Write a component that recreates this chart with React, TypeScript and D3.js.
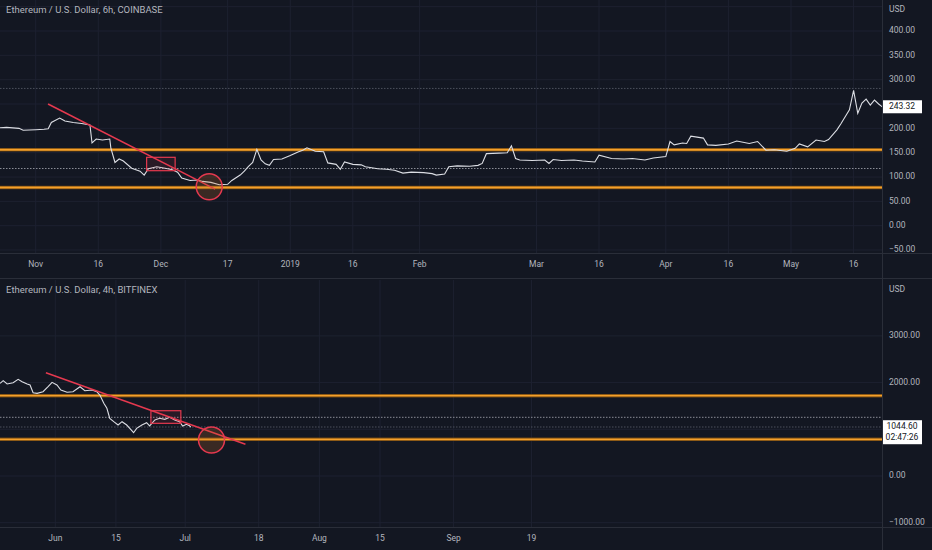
import * as d3 from "d3";

// ETH/USD 6h, COINBASE (Oct 2018 - May 2019)
const topDates = [
  "2018-10-23", "2018-10-25", "2018-10-28", "2018-10-29", "2018-11-01", "2018-11-03",
  "2018-11-04", "2018-11-04T18:00", "2018-11-06T18:00", "2018-11-08", "2018-11-10",
  "2018-11-12", "2018-11-14", "2018-11-14T12:00", "2018-11-15T12:00", "2018-11-17",
  "2018-11-18T18:00", "2018-11-19", "2018-11-20", "2018-11-21", "2018-11-22", "2018-11-24",
  "2018-11-26", "2018-11-27", "2018-11-28", "2018-11-30", "2018-12-02", "2018-12-03T18:00",
  "2018-12-05", "2018-12-06", "2018-12-08", "2018-12-09T18:00", "2018-12-11", "2018-12-13",
  "2018-12-15", "2018-12-17", "2018-12-18", "2018-12-20", "2018-12-21", "2018-12-22",
  "2018-12-23", "2018-12-24", "2018-12-25", "2018-12-26", "2018-12-27", "2018-12-28",
  "2018-12-30", "2019-01-01", "2019-01-03", "2019-01-04", "2019-01-05", "2019-01-07",
  "2019-01-09", "2019-01-10", "2019-01-12", "2019-01-13", "2019-01-14", "2019-01-16",
  "2019-01-18", "2019-01-19", "2019-01-22", "2019-01-24", "2019-01-26", "2019-01-28",
  "2019-01-30", "2019-02-02", "2019-02-04", "2019-02-05", "2019-02-07", "2019-02-08",
  "2019-02-10", "2019-02-13", "2019-02-15", "2019-02-16", "2019-02-17", "2019-02-20",
  "2019-02-22", "2019-02-23", "2019-02-24", "2019-02-25", "2019-02-28", "2019-03-03",
  "2019-03-04", "2019-03-05", "2019-03-07", "2019-03-10", "2019-03-12", "2019-03-15",
  "2019-03-16", "2019-03-19", "2019-03-22", "2019-03-24", "2019-03-27", "2019-03-29",
  "2019-04-01", "2019-04-02", "2019-04-03", "2019-04-05", "2019-04-06", "2019-04-07",
  "2019-04-10", "2019-04-11", "2019-04-13", "2019-04-16", "2019-04-18", "2019-04-21",
  "2019-04-23", "2019-04-25", "2019-04-27", "2019-04-30", "2019-05-02", "2019-05-03",
  "2019-05-05", "2019-05-07", "2019-05-09", "2019-05-10", "2019-05-12", "2019-05-13",
  "2019-05-15", "2019-05-16", "2019-05-17", "2019-05-18", "2019-05-19", "2019-05-20",
  "2019-05-21", "2019-05-22", "2019-05-23",
];
const topPrices = [
  201, 202, 200, 196, 197, 198,
  199, 212, 221, 215, 212,
  210, 207, 170, 178, 176,
  178, 160, 130, 137, 133, 118,
  112, 104, 117, 121, 118, 115,
  110, 98, 93, 94, 91, 89,
  84, 85, 93, 104, 112, 122,
  130, 157, 135, 127, 124, 136,
  137, 144, 152, 155, 160, 153,
  152, 129, 126, 116, 131, 126,
  125, 121, 117, 116, 114, 108,
  110, 109, 107, 104, 106, 121,
  123, 122, 124, 128, 148, 149,
  150, 164, 138, 135, 134, 135,
  128, 136, 134, 135, 133, 131,
  145, 138, 137, 138, 135, 139,
  142, 173, 166, 170, 169, 184,
  180, 166, 165, 168, 174, 169,
  173, 155, 156, 153, 159, 168,
  162, 176, 173, 177, 197, 210,
  238, 278, 231, 252, 260, 248,
  258, 250, 243.32,
];
const topTickDates = [
  "2018-11-01", "2018-11-16", "2018-12-01", "2018-12-17", "2019-01-01", "2019-01-16",
  "2019-02-01", "2019-03-01", "2019-03-16", "2019-04-01", "2019-04-16", "2019-05-01", "2019-05-16",
];
const topTickLabels = ["Nov", "16", "Dec", "17", "2019", "16", "Feb", "Mar", "16", "Apr", "16", "May", "16"];
// 250.00 sits under the last-price label, so it is not written
const topPriceTicks = [400, 350, 300, 200, 150, 100, 50, 0, -50];
const topGridLevels = [450, 400, 350, 300, 250, 200, 150, 100, 50, 0, -50];
const topLevels = [156, 78.5];
const topDotted = [117.5, 282];
const topTrend: [string, number][] = [["2018-11-03T23:00", 250], ["2018-12-14", 75]];
const topBox: [string, number][] = [["2018-11-27T14:00", 140.5], ["2018-12-04T10:00", 113]];
const topCircle: [string, number] = ["2018-12-12T14:00", 80];

// ETH/USD 4h, BITFINEX (May - Jul 2022)
const bottomDates = [
  "2022-05-19T06:00", "2022-05-19T23:00", "2022-05-20T21:00", "2022-05-22T06:00",
  "2022-05-23T10:00", "2022-05-24T08:00", "2022-05-25T12:00", "2022-05-26T04:00",
  "2022-05-26T21:00", "2022-05-27T19:00", "2022-05-29T04:00", "2022-05-30T08:00",
  "2022-05-31T06:00", "2022-06-01T09:00", "2022-06-02T07:00", "2022-06-03T17:00",
  "2022-06-05T02:00", "2022-06-06T17:00", "2022-06-07T20:00", "2022-06-09T11:00",
  "2022-06-10T14:00", "2022-06-11T07:00", "2022-06-12T05:00", "2022-06-12T22:00",
  "2022-06-13T14:00", "2022-06-14T12:00", "2022-06-15T12:00", "2022-06-16T10:00",
  "2022-06-17T12:00", "2022-06-18T10:00", "2022-06-19T02:00", "2022-06-19T19:00",
  "2022-06-21T00:00", "2022-06-22T02:00", "2022-06-22T19:00", "2022-06-24T00:00",
  "2022-06-25T02:00", "2022-06-26T07:00", "2022-06-27T10:00", "2022-06-28T14:00",
  "2022-06-29T17:00", "2022-06-30T10:00", "2022-07-01T07:00", "2022-07-02T00:00",
  "2022-07-02T07:00",
];
const bottomPrices = [
  1985, 2041, 1970, 1998,
  2070, 2020, 1970, 1949,
  1784, 1770, 1805, 1912,
  2006, 1949, 1842, 1792,
  1805, 1912, 1827, 1842,
  1805, 1734, 1556, 1450,
  1235, 1163, 1092, 1163,
  1092, 1000, 927, 1021,
  1092, 1141, 1071, 1199,
  1235, 1214, 1257, 1199,
  1163, 1071, 1107, 1077,
  1044.6,
];
const bottomTickDates = [
  "2022-06-01", "2022-06-15", "2022-07-01", "2022-07-18", "2022-08-01", "2022-08-15", "2022-09-01", "2022-09-19",
];
const bottomTickLabels = ["Jun", "15", "Jul", "18", "Aug", "15", "Sep", "19"];
const bottomGridLevels = [3000, 2000, 1000, 0, -1000];
// 1000.00 sits under the last-price label, so it is not written
const bottomPriceTicks = [3000, 2000, 0, -1000];
const bottomLevels = [1720, 786];
const bottomDotted = [1257, 1049];
const bottomTrend: [string, number][] = [["2022-05-29T20:00", 2212], ["2022-07-14T22:00", 679]];
const bottomBox: [string, number][] = [["2022-06-23T02:00", 1398], ["2022-06-30", 1128]];
const bottomCircle: [string, number] = ["2022-07-07T02:00", 771];

const W = 932;
const H = 550;
const AXIS_X = 882;
const BG = "#131722";
const GRID = "#1d2130";
const TEXT = "#b2b5be";
const BORDER = "#2a2e39";
const RED = "#e5394f";
const FONT = "Roboto, 'Liberation Sans', sans-serif";

const parse = (s: string) => new Date(s.length === 10 ? s + "T00:00" : s);
const fmt = d3.format(".2f");

type PanelProps = {
  top: number;
  plotBottom: number;
  title: string;
  dates: string[];
  prices: number[];
  x: d3.ScaleTime<number, number>;
  y: d3.ScaleLinear<number, number>;
  tickDates: string[];
  tickLabels: string[];
  priceTicks: number[];
  gridLevels: number[];
  levels: number[];
  dotted: number[];
  trend: [string, number][];
  box: [string, number][];
  circle: [string, number];
  lastLines: string[];
};

function Panel(p: PanelProps) {
  const line = d3
    .line<number>()
    .x((_, i) => p.x(parse(p.dates[i])))
    .y((v) => p.y(v));
  const last = p.prices[p.prices.length - 1];
  const boxH = p.lastLines.length * 11 + 2;
  const boxY = p.y(last) - 7;
  return (
    <g>
      <defs>
        <clipPath id={`clip-${p.top}`}>
          <rect x={0} y={p.top} width={AXIS_X} height={p.plotBottom - p.top} />
        </clipPath>
      </defs>
      {/* grid */}
      {p.gridLevels.map((v) => (
        <line key={`h${v}`} x1={0} x2={AXIS_X} y1={p.y(v)} y2={p.y(v)} stroke={GRID} />
      ))}
      {p.tickDates.map((d) => (
        <line key={`v${d}`} x1={p.x(parse(d))} x2={p.x(parse(d))} y1={p.top} y2={p.plotBottom} stroke={GRID} />
      ))}
      <g clipPath={`url(#clip-${p.top})`}>
        {/* dotted levels */}
        {p.dotted.map((v, i) => (
          <line
            key={`d${v}`}
            x1={0}
            x2={AXIS_X}
            y1={p.y(v)}
            y2={p.y(v)}
            stroke={i === 0 ? "#8a8d96" : "#4c505c"}
            strokeDasharray="1.5 1.5"
          />
        ))}
        {/* horizontal orange levels */}
        {p.levels.map((v) => (
          <g key={`l${v}`}>
            <line x1={0} x2={AXIS_X} y1={p.y(v)} y2={p.y(v)} stroke="#6b4512" strokeWidth={3.5} />
            <line x1={0} x2={AXIS_X} y1={p.y(v)} y2={p.y(v)} stroke="#f5a02a" strokeWidth={1.8} />
          </g>
        ))}
        {/* price */}
        <path d={line(p.prices) ?? ""} fill="none" stroke="#dcdee4" strokeWidth={1.1} />
        {/* drawings */}
        <rect
          x={p.x(parse(p.box[0][0]))}
          y={p.y(p.box[0][1])}
          width={p.x(parse(p.box[1][0])) - p.x(parse(p.box[0][0]))}
          height={p.y(p.box[1][1]) - p.y(p.box[0][1])}
          fill="rgba(229,57,79,0.1)"
          stroke={RED}
          strokeWidth={1.2}
        />
        <line
          x1={p.x(parse(p.trend[0][0]))}
          y1={p.y(p.trend[0][1])}
          x2={p.x(parse(p.trend[1][0]))}
          y2={p.y(p.trend[1][1])}
          stroke={RED}
          strokeWidth={1.5}
        />
        <circle
          cx={p.x(parse(p.circle[0]))}
          cy={p.y(p.circle[1])}
          r={13}
          fill="rgba(200,110,40,0.22)"
          stroke={RED}
          strokeWidth={1.5}
        />
      </g>
      {/* title */}
      <text x={6} y={p.top + 13} fill={TEXT} fontSize={9.5} fontFamily={FONT}>
        {p.title}
      </text>
      {/* borders */}
      <line x1={0} x2={W} y1={p.plotBottom + 0.5} y2={p.plotBottom + 0.5} stroke={BORDER} />
      {/* price axis */}
      <text x={889} y={p.top + 10} fill={TEXT} fontSize={8.5} fontFamily={FONT} dominantBaseline="middle">
        USD
      </text>
      {p.priceTicks.map((v) => (
        <text key={`t${v}`} x={889} y={p.y(v)} fill={TEXT} fontSize={8.5} fontFamily={FONT} dominantBaseline="middle">
          {fmt(v)}
        </text>
      ))}
      {/* time axis */}
      {p.tickDates.map((d, i) => (
        <text
          key={`x${d}`}
          x={p.x(parse(d))}
          y={p.plotBottom + 12}
          fill={TEXT}
          fontSize={8.5}
          fontFamily={FONT}
          textAnchor="middle"
          dominantBaseline="middle"
        >
          {p.tickLabels[i]}
        </text>
      ))}
      {/* last price label */}
      <rect x={AXIS_X} y={boxY} width={40} height={boxH} fill="#ffffff" />
      {p.lastLines.map((t, i) => (
        <text
          key={t}
          x={AXIS_X + 20}
          y={boxY + 6.5 + i * 11}
          fill="#131722"
          fontSize={8.5}
          fontFamily={FONT}
          textAnchor="middle"
          dominantBaseline="middle"
        >
          {t}
        </text>
      ))}
    </g>
  );
}

export default function App() {
  const xTop = d3
    .scaleTime()
    .domain([parse("2018-11-01"), parse("2019-05-01")])
    .range([35.7, 791]);
  const yTop = d3.scaleLinear().domain([0, 400]).range([225.7, 31]);

  const xBottom = d3
    .scaleTime()
    .domain([parse("2022-06-01"), parse("2022-09-01")])
    .range([55.3, 453.6]);
  const yBottom = d3.scaleLinear().domain([0, 3000]).range([476, 335.9]);

  return (
    <div style={{ position: "absolute", left: 0, top: 0 }}>
      <svg width={W} height={H} style={{ display: "block", background: BG }}>
        <rect width={W} height={H} fill={BG} />
        <Panel
          top={0}
          plotBottom={253}
          title="Ethereum / U.S. Dollar, 6h, COINBASE"
          dates={topDates}
          prices={topPrices}
          x={xTop}
          y={yTop}
          tickDates={topTickDates}
          tickLabels={topTickLabels}
          priceTicks={topPriceTicks}
          gridLevels={topGridLevels}
          levels={topLevels}
          dotted={topDotted}
          trend={topTrend}
          box={topBox}
          circle={topCircle}
          lastLines={["243.32"]}
        />
        <line x1={0} x2={W} y1={278.5} y2={278.5} stroke={BORDER} />
        <Panel
          top={280}
          plotBottom={527}
          title="Ethereum / U.S. Dollar, 4h, BITFINEX"
          dates={bottomDates}
          prices={bottomPrices}
          x={xBottom}
          y={yBottom}
          tickDates={bottomTickDates}
          tickLabels={bottomTickLabels}
          priceTicks={bottomPriceTicks}
          gridLevels={bottomGridLevels}
          levels={bottomLevels}
          dotted={bottomDotted}
          trend={bottomTrend}
          box={bottomBox}
          circle={bottomCircle}
          lastLines={["1044.60", "02:47:26"]}
        />
        <line x1={AXIS_X + 0.5} x2={AXIS_X + 0.5} y1={0} y2={H} stroke={BORDER} />
      </svg>
    </div>
  );
}
